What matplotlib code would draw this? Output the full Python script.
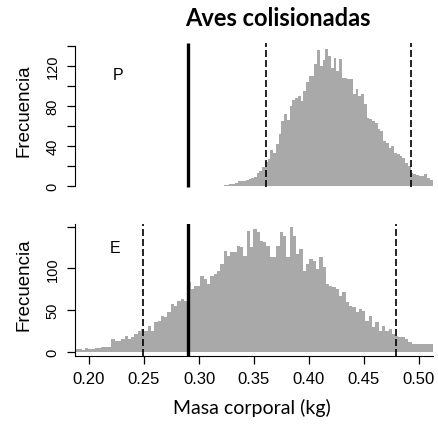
import numpy as np
import matplotlib.pyplot as plt

# histograma superior (P): bins de 0.0025 desde 0.3225
p_start = 0.3225
p_width = 0.0025
p_counts = [1, 1, 2, 2, 3, 5, 5, 5, 6, 7, 8, 9, 13, 15, 19, 24, 27, 36, 33, 42,
            52, 65, 72, 66, 80, 86, 88, 90, 85, 95, 104, 110, 110, 122, 136, 120, 126, 137,
            130, 118, 128, 115, 127, 108, 108, 107, 107, 92, 97, 90, 92, 82, 68, 67, 65,
            63, 57, 55, 45, 43, 38, 40, 33, 32, 30, 28, 23, 20, 13, 12, 11, 10, 10, 12, 8, 6]

# histograma inferior (E): bins de 0.003 desde 0.1873
e_start = 0.1873
e_width = 0.003
e_counts = [3, 3, 2, 4, 3, 3, 4, 4, 5, 5, 5, 15, 13, 13, 15, 19, 15, 17, 21, 25,
            27, 25, 31, 25, 35, 37, 43, 41, 47, 57, 55, 61, 63, 61, 83, 75, 79, 79, 91, 87,
            81, 91, 93, 97, 105, 121, 115, 119, 119, 127, 125, 115, 145, 125,
            147, 143, 133, 131, 127, 113, 113, 127, 143, 139, 113, 149, 139, 117, 123, 97,
            105, 111, 109, 99, 113, 101, 81, 79, 77, 75, 67, 71, 59, 55, 53, 47, 51, 49,
            37, 43, 29, 35, 25, 31, 25, 27, 21, 19, 17, 17, 15, 11, 9, 9, 9, 9, 9, 9, 9]

mean_line = 0.29
p_dashed = [0.3606, 0.4927]
e_dashed = [0.2494, 0.4788]

xticks = [0.20, 0.25, 0.30, 0.35, 0.40, 0.45, 0.50]
xlim = (0.18727, 0.51273)

bar_col = '#a9a9a9'
tick_font = 'Liberation Sans'
cal_font = 'Lato'

W, H = 438, 427
fig = plt.figure(figsize=(W / 100, H / 100), dpi=100)

# ---- panel P ----
ax1 = fig.add_axes([75/W, 1 - 189/H, 358/W, 145/H])
edges = p_start + p_width * np.arange(len(p_counts) + 1)
ax1.bar(edges[:-1], p_counts, width=p_width, align='edge', color=bar_col, linewidth=0)
ax1.set_xlim(*xlim)
ax1.set_ylim(-2, 143)
ax1.vlines(mean_line, -1.3, 143, color='black', lw=2.4)
for x in p_dashed:
    ax1.vlines(x, -1.3, 143, color='black', lw=1.2, linestyles=(0, (4.2, 1.8)))
for s in ['top', 'right', 'bottom']:
    ax1.spines[s].set_visible(False)
ax1.spines['left'].set_bounds(0, 140)
ax1.set_xticks([])
ax1.set_yticks(np.arange(0, 141, 20))
ax1.set_yticklabels(['0', '', '40', '', '80', '', '120', ''],
                    rotation=90, va='center', family=tick_font, fontsize=10.5)
ax1.tick_params(axis='y', length=6, width=0.9, pad=5)

# ---- panel E ----
ax2 = fig.add_axes([75/W, 1 - 357/H, 358/W, 132.5/H])
edges = e_start + e_width * np.arange(len(e_counts) + 1)
ax2.bar(edges[:-1], e_counts, width=e_width, align='edge', color=bar_col, linewidth=0)
ax2.set_xlim(*xlim)
ax2.set_ylim(-5.2, 153.7)
ax2.axvline(mean_line, color='black', lw=2.4)
for x in e_dashed:
    ax2.axvline(x, color='black', lw=1.2, linestyle=(0, (4.2, 1.8)))
for s in ['top', 'right']:
    ax2.spines[s].set_visible(False)
ax2.set_yticks([0, 50, 100, 150])
ax2.set_yticklabels(['0', '50', '100', ''], rotation=90, va='center',
                    family=tick_font, fontsize=10.5)
ax2.set_xticks(xticks)
ax2.set_xticklabels([f'{v:.2f}' for v in xticks], family=tick_font, fontsize=12)
ax2.tick_params(axis='both', length=6, width=0.9, pad=5)

# textos
fig.text(24/W, 1 - 111/H, 'Frecuencia', rotation=90, ha='center', va='center',
         fontsize=13.5, family=tick_font)
fig.text(24/W, 1 - 285/H, 'Frecuencia', rotation=90, ha='center', va='center',
         fontsize=13.5, family=tick_font)
fig.text(118/W, 1 - 75/H, 'P', ha='center', va='center', fontsize=11.5, family=tick_font)
fig.text(115/W, 1 - 249/H, 'E', ha='center', va='center', fontsize=11.5, family=tick_font)
fig.text(252/W, 1 - 408/H, 'Masa corporal (kg)', ha='center', va='center',
         fontsize=14, family=cal_font)
fig.text(278/W, 1 - 18/H, 'Aves colisionadas', ha='center', va='center',
         fontsize=17, fontweight='bold', family=cal_font)

fig.savefig('out.png', dpi=100)
